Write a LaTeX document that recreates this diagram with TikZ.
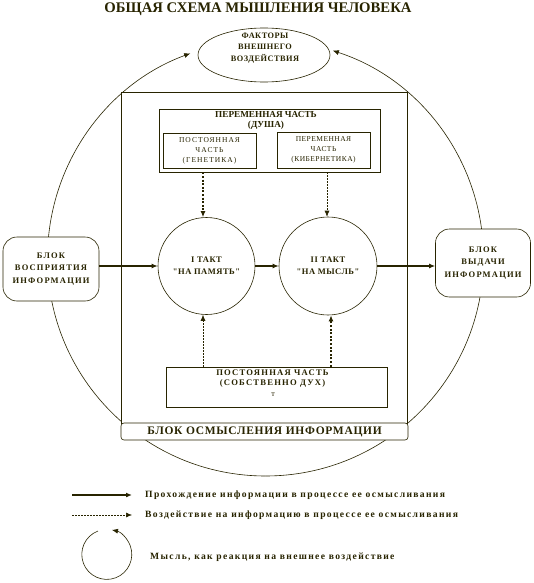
\documentclass[tikz,border=0pt]{standalone}
\usepackage{fontspec}
\setmainfont{Liberation Serif}
\newfontfamily\spA[LetterSpace=6]{Liberation Serif}
\newfontfamily\spB[LetterSpace=14]{Liberation Serif}
\usetikzlibrary{shapes.geometric,arrows.meta}
\definecolor{ink}{RGB}{40,36,0}
\tikzset{
  every node/.style={text=ink, inner sep=0pt},
  line/.style={draw=ink, line width=0.6pt},
  tip/.style={-{Latex[length=6pt,width=5pt]}},
  flow/.style={draw=ink, line width=1.6pt, tip},
  dotflow/.style={draw=ink, line width=1.6pt, dash pattern=on 2pt off 1.6pt, tip},
  thinflow/.style={draw=ink, line width=0.6pt, dash pattern=on 2pt off 1pt, tip},
  rbox/.style={draw=ink, line width=0.6pt, fill=white, rounded corners=14pt},
  sbox/.style={draw=ink, line width=0.8pt, fill=white},
  circ/.style={draw=ink, line width=0.6pt, fill=white, circle},
  legtext/.style={anchor=west, font=\spB\bfseries\fontsize{9.6}{11}\selectfont},
}
\begin{document}
\begin{tikzpicture}[x=1pt,y=-1pt]
\useasboundingbox (0,0) rectangle (534,583);
\fill[white] (0,0) rectangle (534,583);

% title
\node (title) at (258,9) {\fontsize{14.7}{15}\selectfont\bfseries ОБЩАЯ СХЕМА МЫШЛЕНИЯ ЧЕЛОВЕКА};

% big circle with arrows into the ellipse
\draw[line, tip] (265.5,476) arc[start angle=90, end angle=249.8, radius=218];
\draw[line, tip] (265.5,476) arc[start angle=90, end angle=-72, radius=218];

% external factors ellipse
\node[ellipse, draw=ink, line width=0.6pt, fill=white, minimum width=132, minimum height=54] (ext) at (264,55) {};
\node[align=center, font=\spA\bfseries\fontsize{8.3}{11.5}\selectfont] (exttext) at (265,48) {ФАКТОРЫ\\ВНЕШНЕГО\\ВОЗДЕЙСТВИЯ};

% main frame
\node[sbox, minimum width=286, minimum height=331] (frame) at (264,257.5) {};

% side boxes
\node[rbox, minimum width=96, minimum height=64, align=center,
      font=\spB\bfseries\fontsize{8.5}{12.5}\selectfont] (inbox) at (51,269) {БЛОК\\ВОСПРИЯТИЯ\\ИНФОРМАЦИИ};
\node[rbox, minimum width=95, minimum height=68, align=center,
      font=\spB\bfseries\fontsize{8.5}{12.5}\selectfont] (outbox) at (483,263) {БЛОК\\ВЫДАЧИ\\ИНФОРМАЦИИ};

% label of the frame
\node[draw=ink, line width=0.6pt, fill=white, rounded corners=3pt, minimum width=287, minimum height=17,
      font=\spA\bfseries\fontsize{11.5}{12}\selectfont] (frlabel) at (264.5,431.5) {БЛОК ОСМЫСЛЕНИЯ ИНФОРМАЦИИ};

% soul box
\node[sbox, minimum width=221, minimum height=63] (soul) at (269.5,140.5) {};
\node[align=center, font=\bfseries\fontsize{9.2}{10}\selectfont] (soultext) at (266,120) {ПЕРЕМЕННАЯ ЧАСТЬ\\(ДУША)};
\node[sbox, minimum width=93, minimum height=35, align=center,
      font=\spB\fontsize{7.5}{10}\selectfont] (gen) at (209.5,150.5) {ПОСТОЯННАЯ\\ЧАСТЬ\\(ГЕНЕТИКА)};
\node[sbox, minimum width=93, minimum height=36, align=center,
      font=\spA\fontsize{7.5}{10}\selectfont] (cyb) at (323.5,150) {ПЕРЕМЕННАЯ\\ЧАСТЬ\\(КИБЕРНЕТИКА)};

% tact circles
\node[circ, minimum size=97, align=center,
      font=\spA\bfseries\fontsize{8.5}{12}\selectfont] (c1) at (206.5,266) {I ТАКТ\\"НА ПАМЯТЬ"};
\node[circ, minimum size=98, align=center,
      font=\spA\bfseries\fontsize{8.5}{12}\selectfont] (c2) at (328,266) {II ТАКТ\\"НА МЫСЛЬ"};

% spirit box
\node[sbox, minimum width=221, minimum height=40] (spirit) at (276.5,387) {};
\node[align=center, font=\spB\bfseries\fontsize{8.6}{10}\selectfont] (spirittext) at (272.5,378.5) {ПОСТОЯННАЯ ЧАСТЬ\\(СОБСТВЕННО ДУХ)};
\node[font=\fontsize{8}{8}\selectfont] (spiritmark) at (273,395) {т};

% solid flows
\draw[flow] (inbox.east |- c1) -- (c1.west);
\draw[flow] (c1.east) -- (c2.west);
\draw[flow] (c2.east) -- (c2.east -| outbox.west);

% influences
\draw[dotflow] (203,0 |- soul.south) -- (203,0 |- c1.north);
\draw[thinflow] (327,0 |- soul.south) -- (327,0 |- c2.north);
\draw[thinflow] (203,0 |- spirit.north) -- (203,0 |- c1.south);
\draw[dotflow] (331,0 |- spirit.north) -- (331,0 |- c2.south);

% legend
\coordinate (la1) at (72,495);
\coordinate (lb1) at (132,495);
\coordinate (la2) at (72,515);
\coordinate (lb2) at (132,515);
\draw[flow] (la1) -- (lb1);
\draw[thinflow] (la2) -- (lb2);
\node[legtext] (leg1) at (145,495) {Прохождение информации в процессе ее осмысливания};
\node[legtext] (leg2) at (145,515) {Воздействие на информацию в процессе ее осмысливания};
\coordinate (lc) at (107,555);
\draw[line, tip] (98,531) arc[start angle=249.4, end angle=-78, radius=25];
\node[legtext] (leg3) at (150,557) {Мысль, как реакция на внешнее воздействие};
\end{tikzpicture}
\end{document}
